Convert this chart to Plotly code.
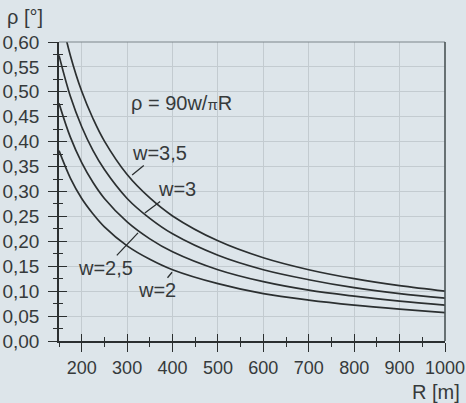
import plotly.graph_objects as go

# Data
R = [150, 175, 200, 225, 250, 300, 350, 400, 500, 600, 700, 800, 900, 1000]
rho_w2 = [0.382, 0.327, 0.286, 0.255, 0.229, 0.191, 0.164, 0.143, 0.115, 0.095, 0.082, 0.072, 0.064, 0.057]
rho_w25 = [0.477, 0.409, 0.358, 0.318, 0.286, 0.239, 0.205, 0.179, 0.143, 0.119, 0.102, 0.090, 0.080, 0.072]
rho_w3 = [0.573, 0.491, 0.430, 0.382, 0.344, 0.286, 0.246, 0.215, 0.172, 0.143, 0.123, 0.107, 0.095, 0.086]
rho_w35 = [0.668, 0.573, 0.501, 0.446, 0.401, 0.334, 0.287, 0.251, 0.201, 0.167, 0.143, 0.125, 0.111, 0.100]

x_tickvals = [200, 300, 400, 500, 600, 700, 800, 900, 1000]
x_ticktext = ["200", "300", "400", "500", "600", "700", "800", "900", "1000"]
y_tickvals = [0.0, 0.05, 0.10, 0.15, 0.20, 0.25, 0.30, 0.35, 0.40, 0.45, 0.50, 0.55, 0.60]
y_ticktext = ["0,00", "0,05", "0,10", "0,15", "0,20", "0,25", "0,30", "0,35",
              "0,40", "0,45", "0,50", "0,55", "0,60"]

BG = "#dde5ea"
INK = "#2b2f30"
TXT = "#363a3b"
FONT = "Liberation Sans, Arial, sans-serif"

fig = go.Figure()
for ys in [rho_w2, rho_w25, rho_w3, rho_w35]:
    fig.add_trace(go.Scatter(x=R, y=ys, mode="lines", line=dict(color=INK, width=1.7, shape="spline"),
                             showlegend=False, hoverinfo="skip"))
# invisible trace for the overlaid axes (inside ticks)
fig.add_trace(go.Scatter(x=[R[0]], y=[rho_w2[0]], xaxis="x2", yaxis="y2", mode="markers",
                         marker=dict(opacity=0), showlegend=False, hoverinfo="skip"))

axis_common = dict(showline=True, linecolor=INK, linewidth=1.6, tickcolor=INK, tickwidth=1.4,
                   zeroline=False, automargin=False)

fig.update_layout(
    width=466, height=403,
    margin=dict(l=59, r=21, t=42, b=62),
    paper_bgcolor=BG, plot_bgcolor=BG,
    font=dict(family=FONT, color=TXT),
    xaxis=dict(range=[150, 1000], tickmode="array", tickvals=x_tickvals, ticktext=x_ticktext,
               ticks="outside", ticklen=9, showgrid=True, gridcolor="#c3cbd0", gridwidth=1,
               ticklabelstandoff=1, tickfont=dict(family=FONT, size=18, color=TXT),
               minor=dict(ticks="outside", ticklen=4, dtick=50, tick0=150, tickcolor=INK, showgrid=False),
               **axis_common),
    yaxis=dict(range=[0, 0.6], tickmode="array", tickvals=y_tickvals, ticktext=y_ticktext,
               ticks="outside", ticklen=9, showgrid=True, gridcolor="#c3cbd0", gridwidth=1,
               ticklabelstandoff=5, tickfont=dict(family=FONT, size=19, color=TXT),
               minor=dict(ticks="outside", ticklen=4, dtick=0.025, tick0=0, tickcolor=INK, showgrid=False),
               **axis_common),
    xaxis2=dict(overlaying="x", matches="x", anchor="y2", side="bottom", showticklabels=False,
                tickmode="array", tickvals=x_tickvals, ticks="inside", ticklen=7, tickcolor=INK, tickwidth=1.4,
                showgrid=False, showline=False, zeroline=False, automargin=False,
                minor=dict(ticks="inside", ticklen=4, dtick=50, tick0=150, tickcolor=INK)),
    yaxis2=dict(overlaying="y", matches="y", anchor="x2", side="left", showticklabels=False,
                tickmode="array", tickvals=y_tickvals, ticks="inside", ticklen=8, tickcolor=INK, tickwidth=1.4,
                showgrid=False, showline=False, zeroline=False, automargin=False,
                minor=dict(ticks="inside", ticklen=4, dtick=0.025, tick0=0, tickcolor=INK)),
)

# top and right frame
fig.add_shape(type="line", xref="x domain", yref="y domain", x0=0, x1=1, y0=1, y1=1,
              line=dict(color="#7d8689", width=1.2))
fig.add_shape(type="line", xref="x domain", yref="y domain", x0=1, x1=1, y0=0, y1=1,
              line=dict(color="#4a5355", width=1.6))

lab_font = dict(family=FONT, size=20, color=TXT)
fig.add_annotation(text="ρ [°]", xref="paper", yref="paper", x=-0.14, y=1.084,
                   xanchor="left", yanchor="middle", showarrow=False, font=lab_font)
fig.add_annotation(text="R [m]", xref="paper", yref="paper", x=1.044, y=-0.17,
                   xanchor="right", yanchor="middle", showarrow=False, font=lab_font)
fig.add_annotation(text="ρ = 90w/<span style='font-size:15px'>π</span>R", x=419, y=0.477,
                   xanchor="center", yanchor="middle", showarrow=False, font=lab_font)

arrow = dict(showarrow=True, arrowhead=0, arrowwidth=1.3, arrowcolor=INK, font=lab_font)
fig.add_annotation(text="w=3,5", x=311, y=0.333, ax=27, ay=-22, **arrow)
fig.add_annotation(text="w=3", x=339, y=0.257, ax=32, ay=-24, **arrow)
fig.add_annotation(text="w=2,5", x=324, y=0.217, ax=-33, ay=35, **arrow)
fig.add_annotation(text="w=2", x=399, y=0.138, ax=-15, ay=18, **arrow)

fig.write_html(
    "out.html",
    config={"displayModeBar": False},
    post_script="document.body.style.margin='0';document.body.style.overflow='hidden';"
                "document.body.style.background='" + BG + "';",
)
